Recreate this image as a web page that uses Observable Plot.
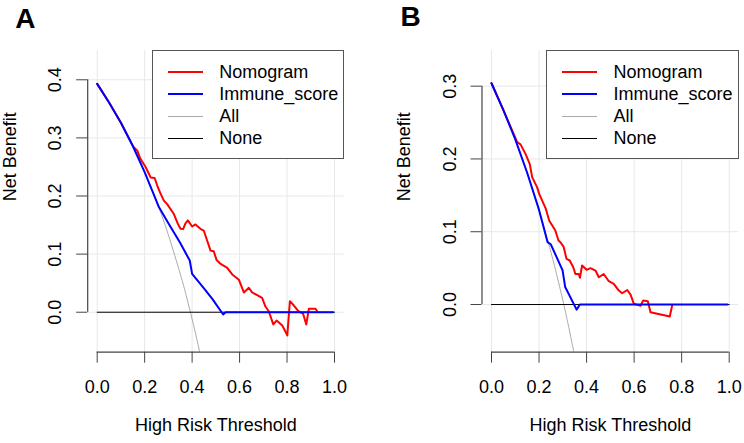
<!DOCTYPE html>
<html><head><meta charset="utf-8">
<script src="https://cdn.jsdelivr.net/npm/d3@7"></script>
<script src="https://cdn.jsdelivr.net/npm/@observablehq/plot@0.6"></script>
<style>
body{margin:0;background:#fff;font-family:"Liberation Sans",Arial,sans-serif}
#wrap{position:relative;width:744px;height:443px;display:flex}
.legend{position:absolute;top:50px;height:109px;border:1px solid #555;background:#fff;box-sizing:border-box;font-size:18px;color:#000}
.sw{position:absolute;height:0}
.lab{position:absolute;line-height:22px;height:22px;white-space:nowrap}
</style>
</head><body>
<div id="wrap"></div>
<script>
// ---- data (threshold, net benefit) ----
const seriesNames = ["Nomogram", "Immune_score", "All", "None"];
const seriesColors = ["#ff0000", "#0000ff", "#aaaaaa", "#000000"];
const seriesWidths = [2, 2, 1, 1];
const xTicks = [0, 0.2, 0.4, 0.6, 0.8, 1.0];
const yTicksA = [0, 0.1, 0.2, 0.3, 0.4];
const yTicksB = [0, 0.1, 0.2, 0.3];
const panelLabels = ["A", "B"];
const axisTitleX = "High Risk Threshold";
const axisTitleY = "Net Benefit";

const nomogramA = [[0,0.393],[0.05,0.361],[0.1,0.326],[0.152,0.285],[0.169,0.278],[0.182,0.264],[0.204,0.250],[0.225,0.232],[0.242,0.231],[0.253,0.218],[0.267,0.204],[0.281,0.192],[0.295,0.186],[0.323,0.169],[0.340,0.152],[0.351,0.1435],[0.362,0.143],[0.372,0.153],[0.382,0.158],[0.400,0.1475],[0.414,0.151],[0.435,0.1435],[0.449,0.1406],[0.4636,0.123],[0.4775,0.106],[0.491,0.105],[0.503,0.090],[0.520,0.083],[0.548,0.0764],[0.569,0.065],[0.597,0.056],[0.618,0.034],[0.639,0.042],[0.653,0.034],[0.695,0.0248],[0.709,0.0098],[0.723,0.0017],[0.742,-0.021],[0.756,-0.0143],[0.780,-0.0229],[0.798,-0.0372],[0.801,-0.040],[0.812,0.019],[0.829,0.0115],[0.845,0.003],[0.868,-0.003],[0.881,-0.021],[0.892,0.006],[0.920,0.006],[0.927,0.0017]];
const immuneA = [[0,0.393],[0.05,0.361],[0.1,0.326],[0.15,0.286],[0.2,0.241],[0.26,0.181],[0.3,0.153],[0.35,0.119],[0.39,0.089],[0.40,0.066],[0.45,0.041],[0.485,0.023],[0.531,-0.004],[0.541,0],[0.994,0]];
const allA = [[0,0.393],[0.05,0.361],[0.1,0.326],[0.15,0.286],[0.2,0.241],[0.25,0.191],[0.3,0.133],[0.35,0.066],[0.375,0.029],[0.4,-0.012],[0.42,-0.0465],[0.44,-0.084]];
const noneA = [[0,0],[1,0]];

const nomogramB = [[0,0.304],[0.05,0.267],[0.108,0.223],[0.122,0.220],[0.143,0.207],[0.161,0.193],[0.171,0.175],[0.192,0.161],[0.2006,0.152],[0.229,0.131],[0.243,0.115],[0.268,0.102],[0.282,0.088],[0.290,0.0856],[0.304,0.0788],[0.3155,0.0627],[0.329,0.0605],[0.344,0.0513],[0.353,0.042],[0.367,0.042],[0.372,0.0367],[0.381,0.0536],[0.400,0.0477],[0.4165,0.050],[0.4375,0.0467],[0.4515,0.0375],[0.472,0.042],[0.4935,0.032],[0.5145,0.0284],[0.5355,0.0192],[0.5497,0.0155],[0.571,0.020],[0.585,0.0137],[0.599,0.001],[0.627,-0.0018],[0.638,0.0055],[0.6576,0.0045],[0.669,-0.0106],[0.750,-0.0165],[0.760,-0.0014]];
const immuneB = [[0,0.304],[0.05,0.267],[0.1,0.227],[0.15,0.181],[0.2,0.130],[0.236,0.0857],[0.250,0.0824],[0.299,0.047],[0.310,0.024],[0.358,-0.007],[0.372,0],[0.993,0]];
const allB = [[0,0.304],[0.05,0.267],[0.1,0.227],[0.15,0.181],[0.2,0.130],[0.25,0.072],[0.275,0.040],[0.3,0.006],[0.32,-0.0235],[0.33,-0.039],[0.345,-0.063],[0.36,-0.087]];
const noneB = [[0,0],[1,0]];

const FONT = "Liberation Sans, Arial, Helvetica, sans-serif";

function panel(cfg) {
  const xDomain = [-0.04, 1.04];
  const yT = cfg.yTicks;
  const series = [cfg.all, cfg.none, cfg.nom, cfg.imm];
  const idx = [2, 3, 0, 1];
  return Plot.plot({
    width: 372, height: 443,
    marginLeft: cfg.marginLeft, marginRight: cfg.marginRight, marginTop: 50, marginBottom: 91.3,
    x: {domain: xDomain},
    y: {domain: cfg.yDomain},
    style: {fontFamily: FONT, fontSize: "18px", color: "#000", background: "#fff", overflow: "visible"},
    marks: [
      Plot.gridX(xTicks, {stroke: "#e8e8e8", strokeOpacity: 1}),
      Plot.gridY(yT, {stroke: "#e8e8e8", strokeOpacity: 1}),
      ...series.map((s, k) => Plot.line(s, {
        x: d => d[0], y: d => d[1],
        stroke: seriesColors[idx[k]], strokeWidth: seriesWidths[idx[k]],
        curve: idx[k] === 2 ? "natural" : "linear", clip: true
      })),
      Plot.ruleY([cfg.yDomain[0]], {x1: xTicks[0], x2: xTicks[xTicks.length - 1], stroke: "#444", strokeWidth: 1.2}),
      Plot.ruleX([xDomain[0]], {y1: yT[0], y2: yT[yT.length - 1], stroke: "#444", strokeWidth: 1.2}),
      Plot.axisX({ticks: xTicks, tickSize: 11, tickPadding: 16.6, tickFormat: d3.format(".1f"), stroke: "#444", fill: "#000", fontSize: 18, label: null}),
      Plot.axisY({ticks: yT, tickSize: 11, tickPadding: 15.5, tickRotate: -90, tickFormat: d3.format(".1f"), stroke: "#444", fill: "#000", fontSize: 18, label: null}),
      Plot.text([axisTitleX], {frameAnchor: "bottom", dy: 78.3, fontSize: 18, fill: "#000"}),
      Plot.text([axisTitleY], {frameAnchor: "left", rotate: -90, dx: -77.3, fontSize: 18, fill: "#000"}),
      Plot.text([cfg.label], {frameAnchor: "top-left", textAnchor: "start", lineAnchor: "top", dx: cfg.labelDx, dy: cfg.labelDy, fontSize: 28, fontWeight: "bold", fill: "#000"})
    ]
  });
}

const wrap = document.getElementById("wrap");
wrap.appendChild(panel({label: panelLabels[0], nom: nomogramA, imm: immuneA, all: allA, none: noneA, yTicks: yTicksA, yDomain: [-0.0688, 0.4504], marginLeft: 87.2, marginRight: 28.5, labelDx: -72.4, labelDy: -41.9}));
wrap.appendChild(panel({label: panelLabels[1], nom: nomogramB, imm: immuneB, all: allB, none: noneB, yTicks: yTicksB, yDomain: [-0.0655, 0.349], marginLeft: 109.5, marginRight: 5.8, labelDx: -81.5, labelDy: -44.6}));

function legend(left, width) {
  const div = document.createElement("div");
  div.className = "legend";
  div.style.left = left + "px";
  div.style.width = width + "px";
  seriesNames.forEach((name, i) => {
    const cy = 21.2 + 22 * i;
    const sw = document.createElement("div");
    sw.className = "sw";
    sw.style.left = "15px";
    sw.style.width = "35px";
    sw.style.top = (cy - seriesWidths[i] / 2) + "px";
    sw.style.borderTop = seriesWidths[i] + "px solid " + seriesColors[i];
    div.appendChild(sw);
    const t = document.createElement("div");
    t.className = "lab";
    t.style.left = "66.5px";
    t.style.top = (cy - 11) + "px";
    t.textContent = name;
    div.appendChild(t);
  });
  wrap.appendChild(div);
}
legend(151.7, 192);
legend(546, 192.5);
</script>
</body></html>
